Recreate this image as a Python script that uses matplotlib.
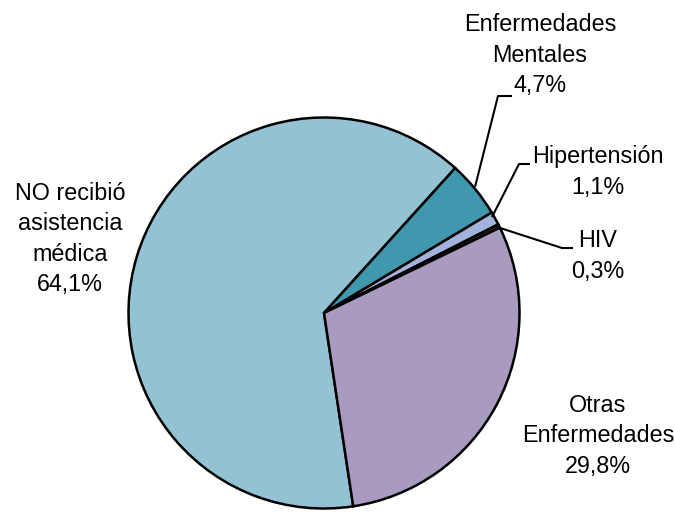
import matplotlib
matplotlib.use("Agg")
import matplotlib.pyplot as plt

categories = ["NO recibió\nasistencia\nmédica", "Enfermedades\nMentales", "Hipertensión", "HIV", "Otras\nEnfermedades"]
values = [64.1, 4.7, 1.1, 0.3, 29.8]
colors = ["#93C3D3", "#3F98AE", "#A3B3DD", "#3A2C24", "#A99BBF"]

W, H = 675, 518
fig = plt.figure(figsize=(W / 100, H / 100), dpi=100)
ax = fig.add_axes([0, 0, 1, 1])

cx, cy, r = 324, H - 313, 195.5
start = 360 - 81.4
ax.pie(values, colors=colors, startangle=start, counterclock=False, center=(cx, cy), radius=r,
       wedgeprops=dict(edgecolor="black", linewidth=1.8), frame=True)
ax.set_xlim(0, W)
ax.set_ylim(0, H)
ax.set_aspect("equal")
ax.axis("off")

font = dict(family=["Liberation Sans", "DejaVu Sans"], fontsize=16.8, color="black",
            ha="center", va="center", linespacing=1.4)

def lab(i, x, y):
    txt = f"{categories[i]}\n{values[i]:.1f}%".replace(".", ",")
    ax.text(x, H - y, txt, **font)

lab(0, 70, 239)
lab(1, 540, 55)
lab(2, 598, 172)
lab(3, 598, 256)
lab(4, 598, 436)

def leader(pts):
    xs = [p[0] for p in pts]
    ys = [H - p[1] for p in pts]
    ax.plot(xs, ys, color="black", lw=1.5, solid_capstyle="butt")

leader([(475, 187), (498, 96), (512, 96)])
leader([(492, 217), (519, 164), (530, 164)])
leader([(497, 227), (562, 248), (573, 248)])

fig.savefig("out.png", dpi=100, facecolor="white")
